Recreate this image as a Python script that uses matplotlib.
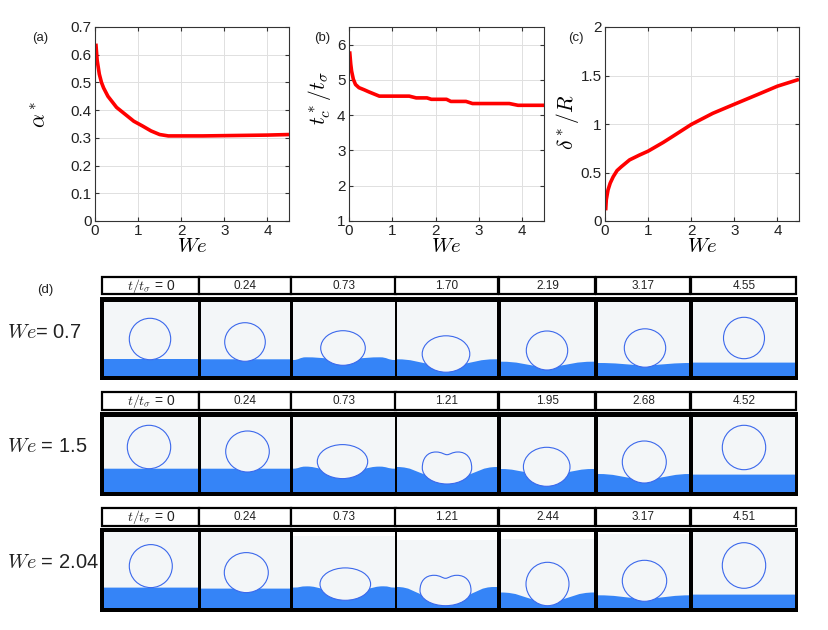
import numpy as np
import matplotlib
matplotlib.use("Agg")
import matplotlib.pyplot as plt
from matplotlib.patches import Rectangle, Ellipse, PathPatch
from matplotlib.path import Path

plt.rcParams.update({"font.family": ["Liberation Sans", "DejaVu Sans"],
                     "mathtext.fontset": "cm", "font.size": 10})

# ---- panels (a)-(c): curves ----
we_a = [0.02, 0.05, 0.1, 0.15, 0.2, 0.3, 0.4, 0.5, 0.7, 0.9, 1.1, 1.3, 1.5, 1.7, 2.0, 2.5, 3.0, 3.5, 4.0, 4.5]
alpha_a = [0.64, 0.58, 0.53, 0.50, 0.48, 0.45, 0.43, 0.41, 0.385, 0.36, 0.343, 0.325, 0.312, 0.307,
           0.307, 0.307, 0.308, 0.309, 0.31, 0.312]

we_b = [0.015, 0.04, 0.06, 0.1, 0.15, 0.23, 0.35, 0.46, 0.58, 0.7, 1.0, 1.39, 1.55, 1.8, 1.9,
        2.25, 2.35, 2.7, 2.85, 3.7, 3.9, 4.5]
tc_b = [5.81, 5.45, 5.25, 5.02, 4.87, 4.78, 4.72, 4.66, 4.6, 4.54, 4.54, 4.54, 4.49, 4.49, 4.45,
        4.45, 4.39, 4.39, 4.33, 4.33, 4.28, 4.28]

we_c = [0.015, 0.03, 0.07, 0.12, 0.19, 0.28, 0.38, 0.57, 0.8, 1.0, 1.35, 1.58, 2.0, 2.5, 2.98, 3.52,
        4.0, 4.5]
delta_c = [0.11, 0.22, 0.32, 0.39, 0.456, 0.52, 0.56, 0.63, 0.68, 0.72, 0.81, 0.875, 0.995, 1.11,
           1.2, 1.3, 1.39, 1.46]

# ---- panel (d): snapshots (pixel units inside each frame, y up from frame bottom) ----
we_rows = [r"$We$= 0.7", r"$We$ = 1.5", r"$We$ = 2.04"]
times = [["0", "0.24", "0.73", "1.70", "2.19", "3.17", "4.55"],
         ["0", "0.24", "0.73", "1.21", "1.95", "2.68", "4.52"],
         ["0", "0.24", "0.73", "1.21", "2.44", "3.17", "4.51"]]
drop_x = [[46, 44, 50, 49, 46, 47, 51],
          [45, 46.5, 49.5, 50, 45.7, 46.3, 51],
          [46.8, 45.3, 52.3, 48.5, 46.5, 46.5, 51]]
drop_y = [[37, 34, 28, 22, 25.5, 28, 38],
          [45, 40.5, 30.4, 24, 25.2, 30, 44.5],
          [41.9, 35.4, 23.9, 17.5, 24, 27.2, 42.5]]
drop_rx = [[20.7, 20.3, 22.3, 23.8, 20.7, 20.7, 20.5],
           [21.7, 21.8, 25.2, 24.7, 23.3, 22, 21.7],
           [21.5, 22, 25.3, 25.5, 21.5, 22.2, 21.7]]
drop_ry = [[20.7, 19.3, 17.3, 18.2, 19.5, 19.2, 20.7],
           [21.7, 20.5, 17, 16, 19.5, 21, 22.2],
           [21.5, 20, 16.2, 15.2, 21.7, 20.5, 22.8]]
dimple = [[0, 0, 0, 0, 0, 0, 0],
          [0, 0, 0, 2.7, 0, 0, 0],
          [0, 0, 0, 3, 0, 0, 0]]
pool_edge = [[17, 16.7, 16, 16.7, 14.3, 13, 13.4],
             [23.3, 23.3, 23.3, 25, 23, 18, 17.4],
             [20.4, 19.4, 20.4, 21, 15.5, 12.7, 13.4]]
# crest distance from drop centre (beyond the frame edge = crest at the wall)
crest_off = [[60, 60, 37, 60, 60, 60, 60],
             [60, 60, 37, 60, 60, 60, 60],
             [60, 60, 38, 60, 60, 60, 60]]
crest_h = [[17, 16.7, 18.7, 16.7, 14.3, 13, 13.4],
           [23.3, 23.3, 25.4, 25, 23, 18, 17.4],
           [20.4, 19.4, 21.7, 21, 15.5, 12.7, 13.4]]
# height where the pool surface meets the drop side
contact_h = [[17, 16.7, 17.7, 12.5, 10.2, 11, 13.4],
             [23.3, 23.3, 23.4, 17.4, 20, 14, 17.4],
             [20.4, 19.4, 19.4, 13.5, 8.5, 10, 13.4]]
top_gap = [[0, 0, 0, 0, 0, 0, 0],
           [0, 0, 0, 0, 0, 0, 0],
           [0, 0, 4, 8, 7, 2, 0]]

W, H = 829, 630
fig = plt.figure(figsize=(W / 100, H / 100), dpi=100)

def px_axes(l, t, r, b):
    return fig.add_axes([l / W, 1 - b / H, (r - l) / W, (b - t) / H])

ov = fig.add_axes([0, 0, 1, 1])
ov.set_xlim(0, W); ov.set_ylim(H, 0); ov.axis("off")

# ---- top row ----
tops = [(95, 27, 289, 221), (349, 27, 544, 221), (605, 27, 799, 221)]
curves = [(we_a, alpha_a), (we_b, tc_b), (we_c, delta_c)]
ylims = [(0, 0.7), (1, 6.5), (0, 2)]
yticks = [[0, 0.1, 0.2, 0.3, 0.4, 0.5, 0.6, 0.7], [1, 2, 3, 4, 5, 6], [0, 0.5, 1, 1.5, 2]]
ylabs = [r"$\alpha^*$", r"$t_c^*/t_\sigma$", r"$\delta^*/R$"]
ylab_pos = [(-0.225, 0.546), (-0.08, 0.634), (-0.125, 0.51)]
tags = [("(a)", 40), ("(b)", 322), ("(c)", 576)]
for i, box in enumerate(tops):
    ax = px_axes(*box)
    ax.plot(curves[i][0], curves[i][1], color="red", lw=2.6, solid_capstyle="butt",
            solid_joinstyle="round")
    ax.set_xlim(0, 4.5); ax.set_ylim(*ylims[i])
    ax.set_xticks([0, 1, 2, 3, 4])
    ax.set_yticks(yticks[i]); ax.set_yticklabels(["%g" % v for v in yticks[i]])
    ax.grid(True, color="#e0e0e0", lw=0.7)
    ax.tick_params(direction="in", top=True, right=True, length=3, labelsize=11, pad=2.5,
                   color="#333333", labelcolor="#222222")
    for s in ax.spines.values():
        s.set_color("#333333"); s.set_linewidth(0.8)
    ax.set_xlabel(r"$We$", fontsize=15, labelpad=-1)
    ax.set_ylabel(ylabs[i], fontsize=15.5)
    ax.yaxis.set_label_coords(*ylab_pos[i])
    ov.text(tags[i][1], 38, tags[i][0], ha="center", va="center", fontsize=9.5, color="#222222")

# ---- panel (d) ----
ov.text(45, 290, "(d)", ha="center", va="center", fontsize=9.5, color="#222222")
cols_l = [104, 201, 293, 397, 501, 598, 693]
cols_r = [198, 290, 395, 497, 594, 689, 795]
rows = [(277, 294, 297, 302, 376, 380), (392, 410, 412, 417, 492, 496), (508, 526, 528, 532, 608, 612)]
label_y = [332, 447, 562]
bg = "#f3f6f8"; water = "#3584f7"; edge = "#3b68ec"

def pool_path(w, e, c, k, m, x0, y0, rx, ry):
    # wall -> crest -> contact with drop -> under the drop, mirrored on the right
    s = (y0 - m) / ry
    half = rx * np.sqrt(max(0.0, 1 - s * s)) if s > 0 else rx
    xa = x0 - half * 0.98
    yb = min(y0 - ry, m)
    xl = min(max(x0 - c, 0.0), xa)
    d = xa - xl
    v = [(0, 0), (0, e),
         (xl * 0.5, e), (xl * 0.5, k), (xl, k),
         (xl + 0.5 * d, k), (xa - 0.3 * d, m + 0.35 * (k - m)), (xa, m),
         (x0, yb)]
    xr = 2 * x0 - xl; xb = 2 * x0 - xa
    dr = xr - xb
    v += [(xb, m),
          (xb + 0.3 * dr, m + 0.35 * (k - m)), (xr - 0.5 * dr, k), (xr, k),
          (xr + (w - xr) * 0.5, k), (xr + (w - xr) * 0.5, e), (w, e),
          (w, 0), (0, 0)]
    codes = ([Path.MOVETO, Path.LINETO] + [Path.CURVE4] * 6 + [Path.LINETO, Path.LINETO]
             + [Path.CURVE4] * 6 + [Path.LINETO, Path.CLOSEPOLY])
    return Path(v, codes)

def bean_path(cx, cy, rx, ry, d):
    pts = [(0, -ry),
           (0.55 * rx, -ry), (rx, -0.55 * ry), (rx, 0),
           (rx, 0.6 * ry), (0.8 * rx, ry), (0.45 * rx, ry),
           (0.2 * rx, ry), (0.12 * rx, ry - d), (0, ry - d),
           (-0.12 * rx, ry - d), (-0.2 * rx, ry), (-0.45 * rx, ry),
           (-0.8 * rx, ry), (-rx, 0.6 * ry), (-rx, 0),
           (-rx, -0.55 * ry), (-0.55 * rx, -ry), (0, -ry),
           (0, -ry)]
    codes = [Path.MOVETO] + [Path.CURVE4] * 18 + [Path.CLOSEPOLY]
    return Path([(cx + a, cy + b) for a, b in pts], codes)

for r, (ht, hb, bt, it, ib, bb) in enumerate(rows):
    ov.add_patch(Rectangle((100, bt), 698, bb - bt, fc="black", ec="none"))
    ov.text(7, label_y[r], we_rows[r], ha="left", va="center", fontsize=14.5, color="#222222")
    for j in range(7):
        l, rr = cols_l[j], cols_r[j]
        ov.add_patch(Rectangle((l - 2, ht), rr - l + 3, hb - ht, fc="white", ec="black", lw=1.6))
        if j == 0:
            ov.text((l + rr) / 2, (ht + hb) / 2 + 0.5, r"$t/t_\sigma$ = " + times[r][j],
                    ha="center", va="center", fontsize=10, color="#222222")
        else:
            ov.text((l + rr) / 2, (ht + hb) / 2 + 0.5, times[r][j], ha="center", va="center",
                    fontsize=8.5, color="#222222")
        w, h = rr - l, ib - it
        fa = px_axes(l, it, rr, ib)
        fa.set_xlim(0, w); fa.set_ylim(0, h)
        fa.set_facecolor(bg); fa.set_xticks([]); fa.set_yticks([])
        for s in fa.spines.values():
            s.set_visible(False)
        if top_gap[r][j] > 0:
            fa.add_patch(Rectangle((0, h - top_gap[r][j]), w, top_gap[r][j], fc="white", ec="none"))
        x0, y0, rx, ry = drop_x[r][j], drop_y[r][j], drop_rx[r][j], drop_ry[r][j]
        fa.add_patch(PathPatch(pool_path(w, pool_edge[r][j], crest_off[r][j], crest_h[r][j],
                                         contact_h[r][j], x0, y0, rx, ry),
                               fc=water, ec="none"))
        if dimple[r][j] > 0:
            fa.add_patch(PathPatch(bean_path(x0, y0, rx, ry, dimple[r][j]), fc=bg, ec=edge, lw=0.8))
        else:
            fa.add_patch(Ellipse((x0, y0), 2 * rx, 2 * ry, fc=bg, ec=edge, lw=0.8))

fig.savefig("out.png", dpi=100)
